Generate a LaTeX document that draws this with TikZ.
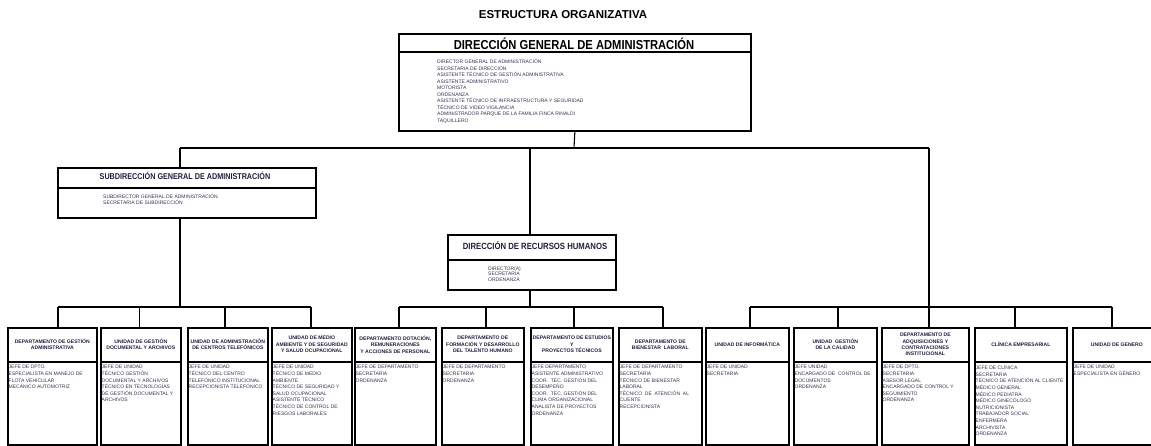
\documentclass[tikz,border=0pt]{standalone}
\usepackage{fontspec}
\setmainfont{Liberation Sans}
\newfontfamily\narrowsans[FakeStretch=0.86]{Liberation Sans}
\definecolor{itemtext}{HTML}{33334F}
\definecolor{headtext}{HTML}{1E1E3C}
\tikzset{
  frame/.style={draw=black, line width=1.7pt, inner sep=0pt, anchor=north west},
  rule/.style={draw=black, line width=1.7pt},
  link/.style={draw=black, line width=1.1pt},
  hd/.style={font=\bfseries\fontsize{5.1}{6.3}\selectfont, text=headtext, align=center, inner sep=0pt},
  items/.style={font=\fontsize{5}{6.6}\selectfont, text=itemtext, align=left, anchor=north west, inner sep=0pt,
                execute at begin node={\rule{0pt}{4.6pt}}},
  bighead/.style={font=\narrowsans\bfseries\fontsize{13}{14}\selectfont, anchor=base, inner sep=0pt},
  midhead/.style={text=headtext, anchor=base, inner sep=0pt},
}
% one unit of the lower level: name, left x, right x, drop x, heading, staff
\newcommand\orgunit[6]{%
  \node[frame, minimum width={#3-#2}, minimum height=117] (#1) at (#2,327) {};
  \draw[rule] ([yshift=-35pt]#1.north west) -- ([yshift=-35pt]#1.north east);
  \node[hd] (#1-h) at ([yshift=-17.5pt]#1.north) {#5};
  \node[items] (#1-i) at ([xshift=1.5pt,yshift=-38.2pt]#1.north west) {#6};
  \coordinate (#1-d) at (#4,307);
  \draw[link] (#1-d) -- (#1-d |- #1.north);
}
\begin{document}
\begin{tikzpicture}[x=1pt,y=-1pt]
\useasboundingbox (0,0) rectangle (1151,446);

\node[font=\bfseries\fontsize{11.5}{12}\selectfont, anchor=base, inner sep=0pt] (title) at (563,19) {ESTRUCTURA ORGANIZATIVA};

% Dirección General
\node[frame, minimum width=352, minimum height=97] (dga) at (398,33) {};
\draw[rule] ([yshift=-19pt]dga.north west) -- ([yshift=-19pt]dga.north east);
\node[bighead] (dga-h) at (574,49.3) {DIRECCIÓN GENERAL DE ADMINISTRACIÓN};
\node[items, font=\fontsize{5}{6.5}\selectfont] (dga-i) at (437,59.3) {DIRECTOR GENERAL DE ADMINISTRACIÓN\\SECRETARIA DE DIRECCIÓN\\ASISTENTE TÉCNICO DE GESTIÓN ADMINISTRATIVA\\ASISTENTE ADMINISTRATIVO\\MOTORISTA\\ORDENANZA\\ASISTENTE TÉCNICO DE INFRAESTRUCTURA Y SEGURIDAD\\TÉCNICO DE VIDEO VIGILANCIA\\ADMINISTRADOR PARQUE DE LA FAMILIA FINCA RINALDI\\TAQUILLERO};

% Subdirección General
\node[frame, minimum width=258, minimum height=50] (sub) at (57,167) {};
\draw[rule] ([yshift=-21pt]sub.north west) -- ([yshift=-21pt]sub.north east);
\node[midhead, font=\narrowsans\bfseries\fontsize{8.4}{9}\selectfont] (sub-h) at (185,179.5) {SUBDIRECCIÓN GENERAL DE ADMINISTRACIÓN};
\node[items, font=\fontsize{5}{5.2}\selectfont] (sub-i) at (103,194.3) {SUBDIRECTOR GENERAL DE ADMINISTRACIÓN\\SECRETARIA DE SUBDIRECCIÓN};

% Dirección de Recursos Humanos
\node[frame, minimum width=168, minimum height=55] (rh) at (447,234) {};
\draw[rule] ([yshift=-26pt]rh.north west) -- ([yshift=-26pt]rh.north east);
\node[midhead, font=\narrowsans\bfseries\fontsize{9}{10}\selectfont] (rh-h) at (535,249.5) {DIRECCIÓN DE RECURSOS HUMANOS};
\node[items, font=\fontsize{5}{5.6}\selectfont] (rh-i) at (488,266.2) {DIRECTOR(A)\\SECRETARIA\\ORDENANZA};

% lower level
\orgunit{b1}{7}{96}{58}{DEPARTAMENTO DE GESTIÓN\\ADMINISTRATIVA}{JEFE DE DPTO.\\ESPECIALISTA EN MANEJO DE\\FLOTA VEHICULAR\\MECÁNICO AUTOMOTRIZ}
\orgunit{b2}{100}{180}{139.5}{UNIDAD DE GESTIÓN\\DOCUMENTAL Y ARCHIVOS}{JEFE DE UNIDAD\\TÉCNICO GESTIÓN\\DOCUMENTAL Y ARCHIVOS\\TÉCNICO EN TECNOLOGÍAS\\DE GESTIÓN DOCUMENTAL Y\\ARCHIVOS}
\orgunit{b3}{187}{267}{225}{UNIDAD DE ADMINISTRACIÓN\\DE CENTROS TELEFÓNICOS}{JEFE DE UNIDAD\\TÉCNICO DEL CENTRO\\TELEFÓNICO INSTITUCIONAL\\RECEPCIONISTA TELEFONICO}
\orgunit{b4}{271}{351}{311}{UNIDAD DE MEDIO\\AMBIENTE Y DE SEGURIDAD\\Y SALUD OCUPACIONAL}{JEFE DE UNIDAD\\TÉCNICO DE MEDIO\\AMBIENTE\\TÉCNICO DE SEGURIDAD Y\\SALUD OCUPACIONAL\\ASISTENTE TÉCNICO\\TÉCNICO DE CONTROL DE\\RIESGOS LABORALES}
\orgunit{b5}{354}{435}{399}{DEPARTAMENTO DOTACIÓN,\\REMUNERACIONES\\Y ACCIONES DE PERSONAL}{JEFE DE DEPARTAMENTO\\SECRETARIA\\ORDENANZA}
\orgunit{b6}{441}{523}{486}{DEPARTAMENTO DE\\FORMACIÓN Y DESARROLLO\\DEL TALENTO HUMANO}{JEFE DE DEPARTAMENTO\\SECRETARIA\\ORDENANZA}
\orgunit{b7}{530}{612}{574}{DEPARTAMENTO DE ESTUDIOS\\Y\\PROYECTOS TÉCNICOS}{JEFE DEPARTAMENTO\\ASISTENTE ADMINISTRATIVO\\COOR.~~TEC. GESTIÓN DEL\\DESEMPEÑO\\COOR.~~TEC. GESTIÓN DEL\\CLIMA ORGANIZACIONAL\\ANALISTA DE PROYECTOS\\ORDENANZA}
\orgunit{b8}{618}{701}{663}{DEPARTAMENTO DE\\BIENESTAR~~LABORAL}{JEFE DE DEPARTAMENTO\\SECRETARIA\\TÉCNICO DE BIENESTAR\\LABORAL\\TÉCNICO~~DE~~ATENCIÓN~~AL\\CLIENTE\\RECEPCIONISTA}
\orgunit{b9}{705}{788}{750}{UNIDAD DE INFORMÁTICA}{JEFE DE UNIDAD\\SECRETARIA}
\orgunit{b10}{793}{876}{838}{UNIDAD~~GESTIÓN\\DE LA CALIDAD}{JEFE UNIDAD\\ENCARGADO DE~~CONTROL DE\\DOCUMENTOS\\ORDENANZA}
\orgunit{b11}{881}{968}{929}{DEPARTAMENTO DE\\ADQUISICIONES Y\\CONTRATACIONES\\INSTITUCIONAL}{JEFE DE DPTO.\\SECRETARIA\\ASESOR LEGAL\\ENCARGADO DE CONTROL Y\\SEGUIMIENTO\\ORDENANZA}
\orgunit{b12}{974}{1066}{1015}{CLÍNICA EMPRESARIAL}{JEFE DE CLÍNICA\\SECRETARIA\\TÉCNICO DE ATENCIÓN AL CLIENTE\\MÉDICO GENERAL\\MÉDICO PEDIATRA\\MÉDICO GINECÓLOGO\\NUTRICIONISTA\\TRABAJADOR SOCIAL\\ENFERMERA\\ARCHIVISTA\\ORDENANZA}
\orgunit{b13}{1072}{1160}{1112}{UNIDAD DE GENERO}{JEFE DE UNIDAD\\ESPECIALISTA EN GÉNERO}

% connectors
\coordinate (j0) at (574,148);
\coordinate (jL) at (180,148);
\coordinate (jM) at (530,148);
\coordinate (jR) at (929,148);
\draw[link] (dga.south) -- (j0);
\draw[link] (jL) -- (jR);
\draw[link] (jL) -- (jL |- sub.north);
\draw[link] (jM) -- (jM |- rh.north);
\draw[link] (jR) -- (jR |- b11-d);
\draw[link] (jL |- sub.south) -- (jL |- b1-d);
\draw[link] (jM |- rh.south) -- (jM |- b5-d);
\draw[link] (b1-d) -- (b4-d);
\draw[link] (b5-d) -- (b8-d);
\draw[link] (b9-d) -- (b13-d);
\end{tikzpicture}
\end{document}
